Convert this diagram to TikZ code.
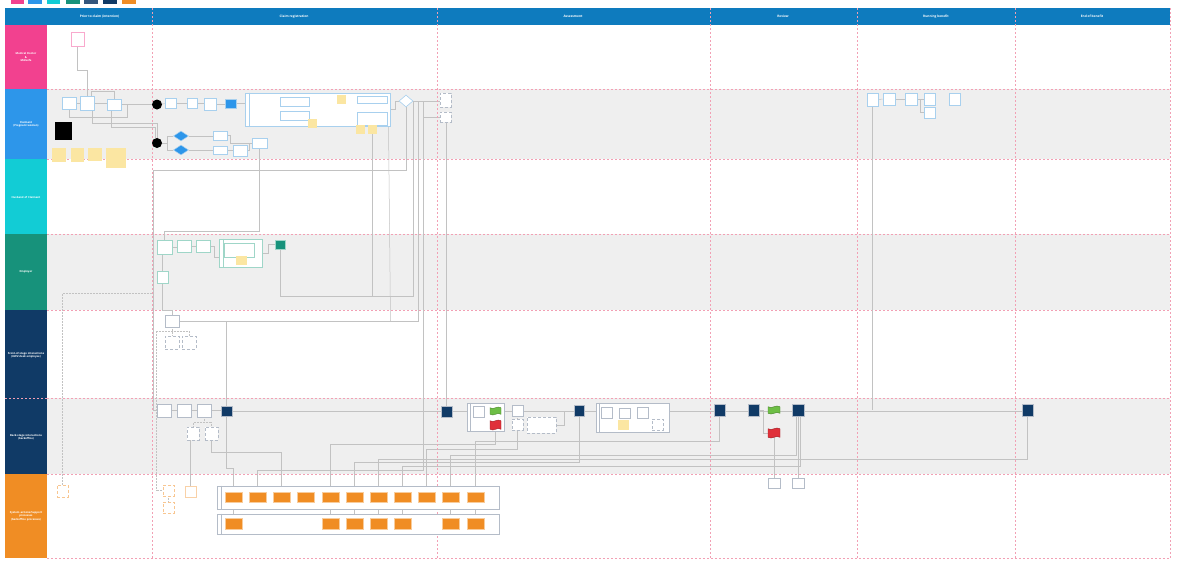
\documentclass[tikz,border=0pt]{standalone}
\usepackage{fontspec}
\setmainfont{Open Sans}
\usepackage{tikz}
\usetikzlibrary{shapes.geometric, shapes.symbols, positioning, fit, calc}

\pgfdeclarelayer{lanes}
\pgfdeclarelayer{links}
\pgfsetlayers{lanes,links,main}

\definecolor{hdrblue}{HTML}{0E7BBE}
\definecolor{docpink}{HTML}{F2418F}
\definecolor{claimblue}{HTML}{2D96EA}
\definecolor{husbcyan}{HTML}{12CCD5}
\definecolor{emplteal}{HTML}{17927B}
\definecolor{uwvnavy}{HTML}{103A66}
\definecolor{sysorange}{HTML}{F08D24}
\definecolor{lanegrey}{HTML}{EFEFEF}
\definecolor{divpink}{HTML}{F2A0B4}
\definecolor{boxblue}{HTML}{A8D0EE}
\definecolor{boxteal}{HTML}{9FD6C8}
\definecolor{boxgrey}{HTML}{B4BCC8}
\definecolor{stickyyellow}{HTML}{FBE6A2}
\definecolor{linkgrey}{HTML}{C2C2C2}
\definecolor{flaggreen}{HTML}{6DBE45}
\definecolor{flagred}{HTML}{E0303A}

\tikzset{
  hdrtext/.style={text=white, font=\bfseries\fontsize{3.2}{3.8}\selectfont},
  lanetext/.style={text=white, font=\bfseries\fontsize{2.7}{3.3}\selectfont, align=center, text width=40pt},
  divider/.style={draw=divpink, line width=0.6pt, dash pattern=on 2pt off 2pt},
  conn/.style={draw=linkgrey, line width=0.5pt},
  dlink/.style={conn, densely dotted},
  pbox/.style={draw=boxblue, fill=white, line width=0.8pt, inner sep=0pt},
  ebox/.style={pbox, draw=boxteal},
  gbox/.style={pbox, draw=boxgrey},
  dbox/.style={pbox, draw=boxgrey, densely dashed, line width=0.5pt},
  obox/.style={pbox, draw=sysorange!50, densely dashed, line width=0.5pt},
  sysnote/.style={pbox, draw=sysorange!40},
  bluebox/.style={fill=claimblue, draw=boxblue, line width=0.5pt, inner sep=0pt},
  tealbox/.style={fill=emplteal, draw=boxteal, line width=0.5pt, inner sep=0pt},
  navybox/.style={fill=uwvnavy, draw=boxgrey, line width=0.5pt, inner sep=0pt},
  sysbox/.style={fill=sysorange, draw=sysorange!45, line width=0.8pt, inner sep=0pt},
  sticky/.style={fill=stickyyellow, inner sep=0pt},
  grpframe/.style={draw=boxblue, line width=1pt, fill=white, inner sep=0pt},
  startdot/.style={circle, fill=black, minimum size=10pt, inner sep=0pt},
  gate/.style={diamond, draw=boxblue, fill=white, line width=0.6pt, inner sep=0pt, minimum width=14pt, minimum height=12pt},
  bluegate/.style={diamond, draw=boxblue, fill=claimblue, line width=0.5pt, inner sep=0pt, minimum width=15pt, minimum height=10pt},
  flag/.style={tape, line width=0.4pt, inner sep=0pt, minimum width=11pt, minimum height=8pt, tape bend height=1.5pt}
}

\begin{document}
\begin{tikzpicture}[x=1pt, y=-1pt]
\useasboundingbox (0,0) rectangle (1180,568);

\begin{pgfonlayer}{lanes}
\fill[white] (0,0) rectangle (1180,568);
% lane backgrounds
\fill[lanegrey] (47,89) rectangle (1170,159);
\fill[lanegrey] (47,234) rectangle (1170,310);
\fill[lanegrey] (47,398) rectangle (1170,474);
\foreach \y in {89,159,234,310,398,474,558}
  \draw[divider] (47,\y) -- (1170,\y);
\end{pgfonlayer}

% legend
\fill[docpink] (11,0) rectangle (24,4);
\fill[claimblue] (28,0) rectangle (42,4);
\fill[husbcyan] (47,0) rectangle (60,4);
\fill[emplteal] (66,0) rectangle (80,4);
\fill[uwvnavy!85!white] (84,0) rectangle (98,4);
\fill[uwvnavy] (103,0) rectangle (117,4);
\fill[sysorange] (122,0) rectangle (136,4);

% header
\fill[hdrblue] (5,8) rectangle (1170,25);
\node[hdrtext] (h1) at (99.5,16.5) {Prior to claim (intention)};
\node[hdrtext] (h2) at (294,16.5) {Claim registration};
\node[hdrtext] (h3) at (573,16.5) {Assessment};
\node[hdrtext] (h4) at (783,16.5) {Review};
\node[hdrtext] (h5) at (936,16.5) {Running benefit};
\node[hdrtext] (h6) at (1092,16.5) {End of benefit};

% lane labels
\fill[docpink] (5,25) rectangle (47,89);
\fill[claimblue] (5,89) rectangle (47,159);
\fill[husbcyan] (5,159) rectangle (47,234);
\fill[emplteal] (5,234) rectangle (47,310);
\fill[uwvnavy] (5,310) rectangle (47,474);
\fill[sysorange] (5,474) rectangle (47,558);
\draw[divider] (5,398) -- (47,398);
\node[lanetext] (l1) at (26,57) {Medical Doctor\\\&\\Midwife};
\node[lanetext] (l2) at (26,124) {Claimant\\(Pregnant woman)};
\node[lanetext] (l3) at (26,197) {Husband of Claimant};
\node[lanetext] (l4) at (26,272) {Employer};
\node[lanetext] (l5) at (26,355) {Front-of-stage interactions\\(UWV-desk employee)};
\node[lanetext] (l6) at (26,437) {Back-stage interactions\\(backoffice)};
\node[lanetext] (l7) at (26,516) {System actions/Support\\processes\\(backoffice processes)};

\foreach \x in {152,437,710,857,1015,1170}
  \draw[divider] (\x,8) -- (\x,558);

% medical doctor
\node[pbox, draw=docpink!45, fit={(71,32) (84,46)}] (med1) {};

% claimant
\node[pbox, fit={(62,97) (76,109)}] (c1) {};
\node[pbox, fit={(80,96) (94,110)}] (c2) {};
\node[pbox, fit={(107,99) (121,110)}] (c3) {};
\node[startdot] (s1) at (157,104.5) {};
\node[pbox, fit={(165,98) (176,108)}] (r1) {};
\node[pbox, fit={(187,98) (197,108)}] (r2) {};
\node[pbox, fit={(204,98) (216,110)}] (r3) {};
\node[bluebox, fit={(225,99) (236,108)}] (r4) {};
\node[grpframe, fit={(245,93) (390,126)}] (g1) {};
\draw[draw=boxblue, line width=0.8pt] ([xshift=5pt]g1.north west) -- ([xshift=5pt]g1.south west);
\node[pbox, fit={(280,97) (309,106)}] (b1) {};
\node[pbox, fit={(280,111) (309,120)}] (b2) {};
\node[pbox, fit={(357,96) (387,103)}] (b3) {};
\node[pbox, fit={(357,112) (387,125)}] (b4) {};
\node[sticky, fit={(337,95) (346,104)}] (st5) {};
\node[sticky, fit={(308,119) (317,128)}] (st6) {};
\node[sticky, fit={(356,125) (365,134)}] (st7) {};
\node[sticky, fit={(368,125) (377,134)}] (st8) {};
\node[gate] (d1) at (406,101) {};
\node[dbox, fit={(440,93) (451,107)}] (e1) {};
\node[dbox, fit={(440,112) (451,122)}] (e2) {};
\node[fill=black, inner sep=0pt, fit={(55,122) (72,140)}] (blk) {};
\node[sticky, fit={(52,148) (66,162)}] (st1) {};
\node[sticky, fit={(71,148) (84,162)}] (st2) {};
\node[sticky, fit={(88,148) (102,161)}] (st3) {};
\node[sticky, fit={(106,148) (126,168)}] (st4) {};
\node[startdot] (s2) at (157,143) {};
\node[bluegate] (dd1) at (181,136) {};
\node[bluegate] (dd2) at (181,150) {};
\node[pbox, fit={(213,131) (227,140)}] (q1) {};
\node[pbox, fit={(213,146) (227,154)}] (q2) {};
\node[pbox, fit={(233,145) (247,156)}] (q3) {};
\node[pbox, fit={(252,138) (267,148)}] (q4) {};

% running benefit
\node[pbox, fit={(867,93) (878,106)}] (rb1) {};
\node[pbox, fit={(883,93) (895,105)}] (rb2) {};
\node[pbox, fit={(905,93) (917,105)}] (rb3) {};
\node[pbox, fit={(924,93) (935,105)}] (rb4) {};
\node[pbox, fit={(924,107) (935,118)}] (rb5) {};
\node[pbox, fit={(949,93) (960,105)}] (rb6) {};

% employer
\node[ebox, fit={(157,240) (172,254)}] (ep1) {};
\node[ebox, fit={(177,240) (191,252)}] (ep2) {};
\node[ebox, fit={(196,240) (210,252)}] (ep3) {};
\node[ebox, fit={(219,239) (262,267)}] (eg) {};
\draw[draw=boxteal, line width=0.8pt] ([xshift=5pt]eg.north west) -- ([xshift=5pt]eg.south west);
\node[ebox, fit={(224,243) (254,257)}] (ib) {};
\node[sticky, fit={(236,256) (247,265)}] (st9) {};
\node[tealbox, fit={(275,240) (285,249)}] (ep4) {};
\node[ebox, fit={(157,271) (168,283)}] (ep5) {};

% front-of-stage
\node[gbox, fit={(165,315) (179,327)}] (f1) {};
\node[dbox, fit={(165,336) (179,349)}] (f2) {};
\node[dbox, fit={(182,336) (196,349)}] (f3) {};

% back-stage
\node[gbox, fit={(157,404) (171,417)}] (k1) {};
\node[gbox, fit={(177,404) (191,417)}] (k2) {};
\node[gbox, fit={(197,404) (211,417)}] (k3) {};
\node[navybox, fit={(221,406) (232,416)}] (k4) {};
\node[dbox, fit={(187,427) (199,440)}] (k5) {};
\node[dbox, fit={(205,427) (218,440)}] (k6) {};
\node[navybox, fit={(441,406) (452,417)}] (a1) {};
\node[gbox, fit={(467,403) (504,431)}] (ag) {};
\draw[draw=boxgrey, line width=0.8pt] ([xshift=4pt]ag.north west) -- ([xshift=4pt]ag.south west);
\node[gbox, fit={(473,406) (484,417)}] (a2) {};
\node[flag, fill=flaggreen, draw=flaggreen!70!black] (fg1) at (495.5,411) {};
\node[flag, fill=flagred, draw=flagred!70!black, minimum height=10pt] (fr1) at (495.5,425) {};
\node[gbox, fit={(512,405) (523,416)}] (a3) {};
\node[dbox, fit={(512,419) (523,430)}] (a4) {};
\node[dbox, fit={(527,417) (556,433)}] (a5) {};
\node[navybox, fit={(574,405) (584,416)}] (a6) {};
\node[gbox, fit={(596,403) (669,432)}] (ag2) {};
\draw[draw=boxgrey, line width=0.8pt] ([xshift=4pt]ag2.north west) -- ([xshift=4pt]ag2.south west);
\node[gbox, fit={(601,407) (612,418)}] (a7) {};
\node[gbox, fit={(619,408) (630,418)}] (a8) {};
\node[gbox, fit={(637,407) (648,418)}] (a9) {};
\node[sticky, fit={(618,420) (629,430)}] (st10) {};
\node[dbox, fit={(652,419) (663,430)}] (a10) {};
\node[navybox, fit={(714,404) (725,416)}] (v1) {};
\node[navybox, fit={(748,404) (759,416)}] (v2) {};
\node[flag, fill=flaggreen, draw=flaggreen!70!black, minimum width=12pt] (fg2) at (774,410) {};
\node[navybox, fit={(792,404) (804,416)}] (v3) {};
\node[flag, fill=flagred, draw=flagred!70!black, minimum width=12pt, minimum height=10pt] (fr2) at (774,433) {};
\node[navybox, fit={(1022,404) (1033,416)}] (v4) {};

% system actions
\node[gbox, fit={(768,478) (780,488)}] (x1) {};
\node[gbox, fit={(792,478) (804,488)}] (x2) {};
\node[obox, fit={(57,485) (68,497)}] (sys0) {};
\node[obox, fit={(163,485) (174,496)}] (sys1) {};
\node[obox, fit={(163,502) (174,513)}] (sys2) {};
\node[sysnote, fit={(185,486) (196,497)}] (sys3) {};
\node[gbox, fit={(217,486) (499,509)}] (og1) {};
\node[gbox, fit={(217,514) (499,534)}] (og2) {};
\draw[draw=boxgrey, line width=0.8pt] ([xshift=5pt]og1.north west) -- ([xshift=5pt]og1.south west);
\draw[draw=boxgrey, line width=0.8pt] ([xshift=5pt]og2.north west) -- ([xshift=5pt]og2.south west);
\foreach \xa [count=\i] in {225,249,273,297,322,346,370,394,418,442,467}
  \node[sysbox, fit={(\xa,492) (\xa+17,502)}] (sa\i) {};
\foreach \xa/\i in {225/1,322/5,346/6,370/7,394/8,442/10,467/11}
  \node[sysbox, fit={(\xa,518) (\xa+17,529)}] (sb\i) {};

% junctions
\coordinate (gt) at (255,108);
\coordinate (gj1) at (273,108);
\coordinate (gj2) at (316,112);
\coordinate (gj3) at (350,112);
\coordinate (dj1) at (153.5,170);
\coordinate (dj2) at (413,296);
\coordinate (dj3) at (418,321);
\coordinate (dj4) at (423,470);
\coordinate (fj) at (156,331);
\coordinate (sj0) at (153,293);

\begin{pgfonlayer}{links}
% claimant
\draw[conn] (med1.south) -- ++(0,24) -| (c2.north);
\draw[conn] (c1) -- (c2);
\draw[conn] (c2.east) -- (c2.east -| c3.west);
\draw[conn] (c3.east) -- (s1.west);
\draw[conn] (c1.south) -- ++(0,8) -| ([xshift=6pt]c3.east);
\draw[conn] ([xshift=4pt]c2.north) -- ++(0,-4) -| (c3.north);
\draw[conn] ([xshift=5pt]c2.south) -- ++(0,13) -| (s2.north);
\draw[conn] ([xshift=-3pt]c3.south) -- ++(0,17) -| ([xshift=-2pt]s2.north);
\draw[conn] (s1) -- (r1);
\draw[conn] (r1) -- (r2);
\draw[conn] (r2.east) -- (r2.east -| r3.west);
\draw[conn] (r3.east) -- (r3.east -| r4.west);
\draw[conn] (r4.east) -- (r4.east -| g1.west);
\draw[conn] (gt) -- (gj1);
\draw[conn] (gj1) |- (b1.west);
\draw[conn] (gj1) |- (b2.west);
\draw[conn] (b1.east) -| (gj2);
\draw[conn] (b2.east) -| (gj2);
\draw[conn] (gj2) -- (gj3);
\draw[conn] (gj3) |- (b3.west);
\draw[conn] (gj3) |- (b4.west);
\draw[conn] (g1.east) -- ++(5,0) |- (d1.west);
\draw[conn] (d1.east) -- (d1.east -| e1.west);
\draw[conn] ([xshift=10pt]d1.east) |- (e2.west);
\draw[conn] (d1.south) |- (dj1) |- (k1.west);
\draw[conn] (s2.east) -- ++(5,0) |- (dd1.west);
\draw[conn] (s2.east) ++(5,0) |- (dd2.west);
\draw[conn] (dd1.east) -- (dd1.east -| q1.west);
\draw[conn] (dd2.east) -- (dd2.east -| q2.west);
\draw[conn] (q2.east) -- (q2.east -| q3.west);
\draw[conn] (q1.east) -- ++(3,0) |- (q4.west);
\draw[conn] (q3.east) -- ++(2,0) |- (q4.west);
\draw[conn] (q4.south) |- ($(ep1.north)+(0,-8)$) -- (ep1.north);
\draw[conn] (b4.south) -- (b4.south |- dj2);
\draw[conn] ([xshift=-2pt]g1.south east) -- (g1.south east |- dj3);
% employer
\draw[conn] (ep1.east) -- (ep1.east -| ep2.west);
\draw[conn] (ep2) -- (ep3);
\draw[conn] (ep3.east) -- ++(4,0) |- ([yshift=-4pt]eg.west);
\draw[conn] (eg.east) -- ++(6,0) |- (ep4.west);
\draw[conn] (ep5.north |- ep1.south) -- (ep5.north);
\draw[conn] (ep5.south) -- ++(0,27) -| (f1.north);
\draw[conn] (ep4.south) |- (dj2) -- (dj2 |- d1.east);
% front- and back-stage
\draw[conn] (f1.east) -- (dj3) -- (dj3 |- d1.east);
\draw[conn] (f1.east) -| (k4.north);
\draw[dlink] (f1.south) -- (f2.north);
\draw[dlink] (f1.south) ++(0,4) -| (f3.north);
\draw[dlink] (f3.north) |- (fj) |- (sys1.west);
\draw[dlink] (sys0.north) |- (sj0);
\draw[conn] (k1) -- (k2);
\draw[conn] (k2) -- (k3);
\draw[conn] (k3.east) -- (k3.east -| k4.west);
\draw[dlink] (k3.south) -- ++(0,5) -| (k5.north);
\draw[dlink] (k3.south) ++(0,5) -| (k6.north);
\draw[conn] (a1.north) -- (a1.north |- e2.south);
\draw[conn] (k4.east) -- (k4.east -| v4.west);
\draw[dlink] (a3.south) -- (a4.north);
\draw[conn] (a5.east) -| ([xshift=-10pt]a6.west);
\draw[conn] (v2.east) -- ++(4,0) |- (fr2.west);
\draw[conn] (fr2.south) -- (x1.north);
\draw[conn] (v3.south) -- (x2.north);
% running benefit
\draw[conn] (rb1) -- (rb2);
\draw[conn] (rb2) -- (rb3);
\draw[conn] (rb3) -- (rb4);
\draw[conn] (rb3.east) -- ++(3,0) |- (rb5.west);
\draw[conn] (rb1.south) -- (rb1.south |- v1.east);
% to system actions
\draw[conn] (dj4 |- d1.east) -- (dj4) -| (sa2.north);
\draw[conn] (k4.south) -- ++(0,52) -| (sa1.north);
\draw[conn] (k6.south) |- (281.5,452) -- (sa3.north);
\draw[conn] (sys3.north) -- (sys3.north |- k5.south);
\draw[dlink] (sys1.south) -- (sys2.north);
\draw[conn] (fr1.south) |- (330.5,444) -- (sa5.north);
\draw[conn] (a6.south) |- (354.5,462) -- (sa6.north);
\draw[conn] (a4.south) |- (426.5,449) -- (sa9.north);
\draw[conn] (v1.south) |- (475.5,441) -- (sa11.north);
\draw[conn] ([xshift=-2pt]v3.south) |- (450.5,455) -- (sa10.north);
\draw[conn] ([xshift=2pt]v3.south) |- (402.5,466) -- (sa8.north);
\draw[conn] (v4.south) |- (378.5,459) -- (sa7.north);
\foreach \i in {1,5,6,7,8,10,11}
  \draw[conn] (sa\i.south) -- (sb\i.north);
\end{pgfonlayer}

\end{tikzpicture}
\end{document}
